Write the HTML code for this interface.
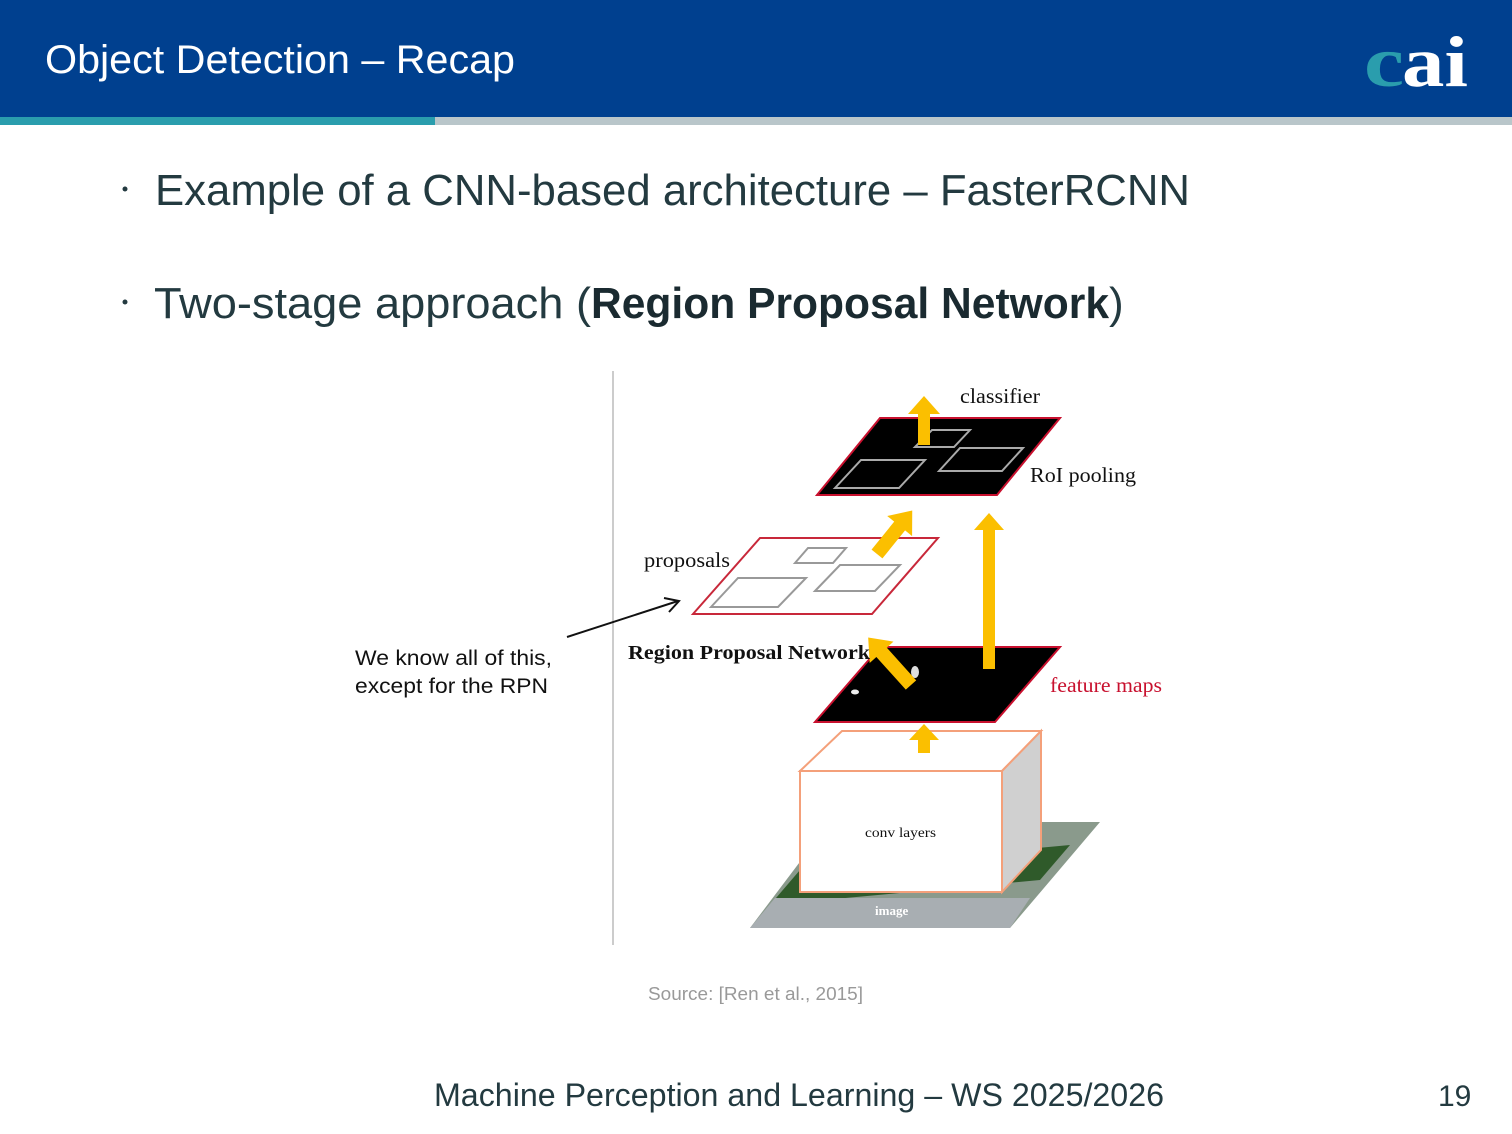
<!DOCTYPE html>
<html><head><meta charset="utf-8"><style>
html,body{margin:0;padding:0;background:#fff;}
svg{display:block;}
</style></head><body>
<svg width="1512" height="1134" viewBox="0 0 1512 1134" xmlns="http://www.w3.org/2000/svg" font-family="Liberation Sans, sans-serif">
<rect x="0" y="0" width="1512" height="117" fill="#00408f"/>
<rect x="0" y="117" width="435" height="8" fill="#2a9dad"/>
<rect x="435" y="117" width="1077" height="8" fill="#b9c6ca"/>
<text x="45" y="73" font-size="40" fill="#fff" textLength="470" lengthAdjust="spacingAndGlyphs">Object Detection – Recap</text>
<text x="1364" y="86" font-size="72" font-family="Liberation Serif, serif" font-weight="bold" fill="#2a9dad" textLength="40" lengthAdjust="spacingAndGlyphs">c</text>
<text x="1402" y="86" font-size="72" font-family="Liberation Serif, serif" font-weight="bold" fill="#fff" textLength="66" lengthAdjust="spacingAndGlyphs">ai</text>

<circle cx="125" cy="189" r="2.5" fill="#233a40"/>
<text x="155" y="205" font-size="44" fill="#233a40" textLength="1035" lengthAdjust="spacingAndGlyphs">Example of a CNN-based architecture – FasterRCNN</text>
<circle cx="125" cy="302" r="2.5" fill="#233a40"/>
<text x="154" y="318" font-size="44" fill="#233a40"><tspan textLength="437" lengthAdjust="spacingAndGlyphs">Two-stage approach (</tspan><tspan font-weight="bold" fill="#1a2a30" textLength="518" lengthAdjust="spacingAndGlyphs">Region Proposal Network</tspan><tspan>)</tspan></text>

<line x1="613" y1="371" x2="613" y2="945" stroke="#bbb" stroke-width="1.5"/>

<!-- image base -->
<polygon points="750,928 830,822 1100,822 1010,928" fill="#8a9a8c"/>
<polygon points="770,905 800,870 1070,845 1040,880" fill="#2f5a2a"/>
<polygon points="750,928 775,898 1030,898 1010,928" fill="#a8aeb2"/>
<text x="875" y="915" font-size="13" font-family="Liberation Serif, serif" font-weight="bold" fill="#fff">image</text>

<!-- conv box -->
<polygon points="800,771 842,731 1041,731 1002,771" fill="#fff" stroke="#f4a07a" stroke-width="2"/>
<polygon points="1002,771 1041,731 1041,850 1002,892" fill="#d0d0d0" stroke="#f4a07a" stroke-width="2"/>
<rect x="800" y="771" width="202" height="121" fill="#fff" stroke="#f4a07a" stroke-width="2"/>
<text x="865" y="837" font-size="14" font-family="Liberation Serif, serif" fill="#111" textLength="71" lengthAdjust="spacingAndGlyphs">conv layers</text>

<!-- feature maps -->
<polygon points="815,722 880,647 1060,647 995,722" fill="#000" stroke="#c8102e" stroke-width="2"/>
<ellipse cx="915" cy="672" rx="4" ry="6" fill="#ddd"/>
<ellipse cx="855" cy="692" rx="4" ry="2.5" fill="#eee"/>
<text x="1050" y="692" font-size="21" font-family="Liberation Serif, serif" fill="#c8102e" textLength="112" lengthAdjust="spacingAndGlyphs">feature maps</text>

<!-- proposals -->
<polygon points="693,614 760,538 938,538 872,614" fill="#fff" stroke="#c8283a" stroke-width="2"/>
<polygon points="711,607 738,578 806,578 778,607" fill="none" stroke="#999" stroke-width="2"/>
<polygon points="815,591 840,565 900,565 875,591" fill="none" stroke="#999" stroke-width="2"/>
<polygon points="795,563 808,548 846,548 833,563" fill="none" stroke="#999" stroke-width="2"/>
<text x="644" y="567" font-size="21" font-family="Liberation Serif, serif" fill="#111" textLength="86" lengthAdjust="spacingAndGlyphs">proposals</text>

<!-- RoI pooling -->
<polygon points="817,495 880,418 1060,418 997,495" fill="#000" stroke="#c8102e" stroke-width="2"/>
<polygon points="835,488 861,460 925,460 899,488" fill="none" stroke="#aaa" stroke-width="2"/>
<polygon points="939,471 960,448 1023,448 1002,471" fill="none" stroke="#aaa" stroke-width="2"/>
<polygon points="915,447 932,430 970,430 954,447" fill="none" stroke="#aaa" stroke-width="2"/>
<text x="1030" y="482" font-size="21" font-family="Liberation Serif, serif" fill="#111" textLength="106" lengthAdjust="spacingAndGlyphs">RoI pooling</text>
<text x="960" y="403" font-size="21" font-family="Liberation Serif, serif" fill="#111" textLength="80" lengthAdjust="spacingAndGlyphs">classifier</text>

<!-- yellow arrows -->
<g fill="#fbbf00">
<polygon points="918,445 930,445 930,414 940,414 924,396 908,414 918,414"/>
<polygon points="983,669 995,669 995,530 1004,530 989,513 974,530 983,530"/>
<polygon points="918,753 930,753 930,740 939,740 924,724 909,740 918,740"/>
<g transform="translate(877,554) rotate(39)"><polygon points="-7,0 7,0 7,-36 16,-36 0,-56 -16,-36 -7,-36"/></g>
<g transform="translate(911,685) rotate(-42)"><polygon points="-7,0 7,0 7,-44 16,-44 0,-64 -16,-44 -7,-44"/></g>
</g>
<text x="628" y="659" font-size="20" font-family="Liberation Serif, serif" font-weight="bold" fill="#111" textLength="242" lengthAdjust="spacingAndGlyphs">Region Proposal Network</text>

<!-- black arrow -->
<line x1="567" y1="637" x2="678" y2="601" stroke="#111" stroke-width="2"/>
<polyline points="664,598 679,601 669,612" fill="none" stroke="#111" stroke-width="2"/>
<text x="355" y="665" font-size="21" fill="#111" textLength="197" lengthAdjust="spacingAndGlyphs">We know all of this,</text>
<text x="355" y="693" font-size="21" fill="#111" textLength="193" lengthAdjust="spacingAndGlyphs">except for the RPN</text>

<text x="648" y="1000" font-size="18" fill="#999" textLength="215" lengthAdjust="spacingAndGlyphs">Source: [Ren et al., 2015]</text>
<text x="434" y="1106" font-size="32" fill="#233a40" textLength="730" lengthAdjust="spacingAndGlyphs">Machine Perception and Learning – WS 2025/2026</text>
<text x="1438" y="1106" font-size="30" fill="#233a40">19</text>
</svg>
</body></html>
